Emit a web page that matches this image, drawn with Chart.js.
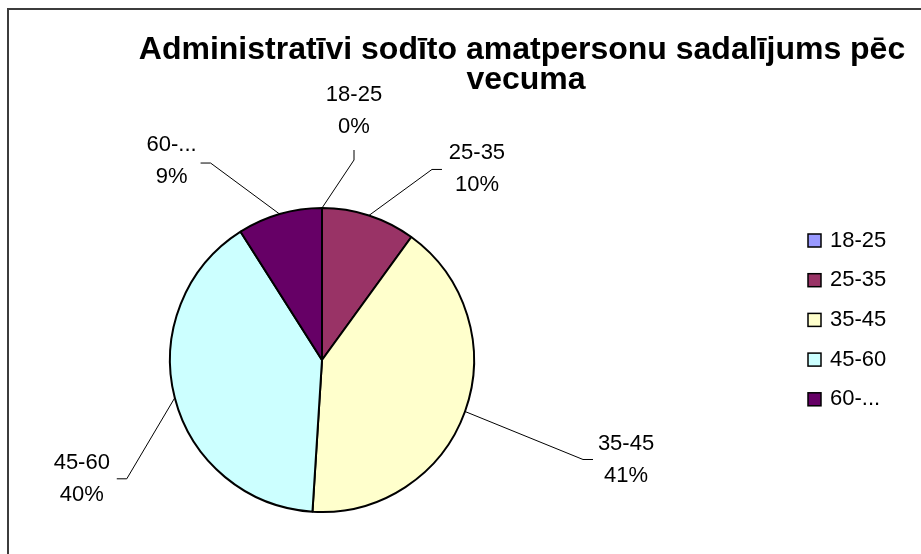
<!DOCTYPE html>
<html>
<head>
<meta charset="utf-8">
<script src="https://cdn.jsdelivr.net/npm/chart.js@4/dist/chart.umd.min.js"></script>
<style>
  html, body { margin: 0; padding: 0; background: #fff; }
  #wrap { width: 921px; height: 554px; position: relative; }
</style>
</head>
<body>
<div id="wrap"><canvas id="pieChart" width="921" height="554"></canvas></div>
<script>
const ageGroups = ["18-25", "25-35", "35-45", "45-60", "60-..."];
const shares = [0, 10, 41, 40, 9];
const sliceColors = ["#9999FF", "#993366", "#FFFFCC", "#CCFFFF", "#660066"];
const titleLines = ["Administratīvi sodīto amatpersonu sadalījums pēc", "vecuma"];

const FONT = "Arial, 'Liberation Sans', sans-serif";

// label placement relative to each slice's edge point: [bendX, bendY, textX, textY, nub]
const labelPlacement = [
    [32, -48, 32, -97, "up"],
    [63, -46, 108, -47, "right"],
    [118, 48, 161, 48, "right"],
    [-48, 81, -93, 81, "left"],
    [-69, -51, -108, -53, "left"]
];

const decorPlugin = {
    id: "decor",
    beforeDraw(chart) {
        const ctx = chart.ctx;
        ctx.save();
        ctx.fillStyle = "#fff";
        ctx.fillRect(0, 0, chart.width, chart.height);
        // frame
        ctx.strokeStyle = "#3c3c3c";
        ctx.lineWidth = 2;
        ctx.beginPath();
        ctx.moveTo(8, chart.height + 5);
        ctx.lineTo(8, 9);
        ctx.lineTo(chart.width + 5, 9);
        ctx.stroke();
        ctx.restore();
    },
    afterDraw(chart) {
        const ctx = chart.ctx;
        const meta = chart.getDatasetMeta(0);
        const data = chart.data.datasets[0].data;
        const total = data.reduce((a, b) => a + b, 0);
        ctx.save();

        // title
        ctx.fillStyle = "#000";
        ctx.font = "bold 32px " + FONT;
        ctx.textAlign = "center";
        ctx.textBaseline = "middle";
        ctx.fillText(titleLines[0], 522, 50);
        ctx.fillText(titleLines[1], 526, 80);

        // data labels with leader lines
        ctx.font = "22px " + FONT;
        meta.data.forEach((arc, i) => {
            const p = arc.getProps(["x", "y", "startAngle", "endAngle", "outerRadius"], true);
            const mid = (p.startAngle + p.endAngle) / 2;
            const ax = p.x + Math.cos(mid) * p.outerRadius;
            const ay = p.y + Math.sin(mid) * p.outerRadius;
            const lp = labelPlacement[i];
            const bx = ax + lp[0], by = ay + lp[1];
            let nx = bx, ny = by;
            if (lp[4] === "up") ny = by - 10;
            else if (lp[4] === "right") nx = bx + 10;
            else nx = bx - 10;
            ctx.strokeStyle = "#000";
            ctx.lineWidth = 1;
            ctx.beginPath();
            ctx.moveTo(ax, ay);
            ctx.lineTo(bx, by);
            ctx.lineTo(nx, ny);
            ctx.stroke();
            const tx = ax + lp[2], ty = ay + lp[3];
            ctx.fillText(chart.data.labels[i], tx, ty - 16);
            ctx.fillText(Math.round(data[i] / total * 100) + "%", tx, ty + 16);
        });

        // legend
        ctx.textAlign = "left";
        chart.data.labels.forEach((lab, i) => {
            const cy = 240.5 + i * 39.7;
            ctx.fillStyle = sliceColors[i];
            ctx.fillRect(808, cy - 6.5, 13, 13);
            ctx.strokeStyle = "#000";
            ctx.lineWidth = 1.5;
            ctx.strokeRect(808, cy - 6.5, 13, 13);
            ctx.fillStyle = "#000";
            ctx.fillText(lab, 830, cy);
        });
        ctx.restore();
    }
};

new Chart("pieChart", {
    type: "pie",
    data: {
        labels: ageGroups,
        datasets: [{
            data: shares,
            backgroundColor: sliceColors,
            borderColor: "#000",
            borderWidth: 2,
            hoverOffset: 0,
            offset: 0
        }]
    },
    options: {
        responsive: false,
        animation: false,
        events: [],
        layout: { padding: { left: 169, right: 446, top: 207, bottom: 41 } },
        plugins: {
            legend: { display: false },
            title: { display: false },
            tooltip: { enabled: false }
        }
    },
    plugins: [decorPlugin]
});
</script>
</body>
</html>
